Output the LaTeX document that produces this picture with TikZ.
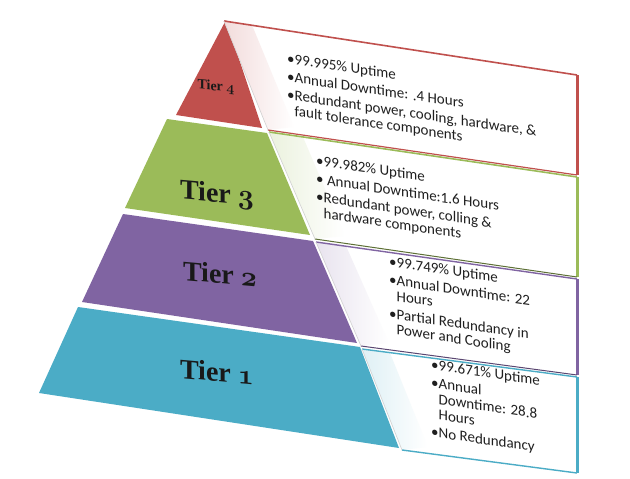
\documentclass[tikz,border=0pt]{standalone}
\usepackage{fix-cm}
\usepackage{fontspec}
\setmainfont{Carlito}
\newfontfamily\tierfont{Liberation Serif}
\definecolor{tred}{HTML}{C0504D}
\definecolor{tgreen}{HTML}{9BBB59}
\definecolor{tpurple}{HTML}{8064A2}
\definecolor{tcyan}{HTML}{4BACC6}
\tikzset{
  paneltext/.style={anchor=north west, inner sep=0pt, align=left, text=black!88,
    font=\fontsize{15}{15.5}\selectfont, yslant=-0.148},
  tierlabel/.style={text=black!90, inner sep=0pt, yslant=-0.09,
    font=\tierfont\bfseries\fontsize{28}{28}\selectfont},
  edgeline/.style={draw=black!18, line width=0.6pt}
}
\newcommand{\bul}{\textbullet}
\newcommand{\ind}{\hphantom{\textbullet}}
\newcommand{\osn}[1]{{\usefont{OML}{cmm}{b}{it}#1}}
\begin{document}
\begin{tikzpicture}[x=1pt,y=-1pt]
\useasboundingbox[fill=white] (0,0) rectangle (630,479);

% ---------- left (coloured) faces
\fill[tred] (226,20) -- (262,128) -- (176,115) -- cycle;
\fill[tgreen] (167,119) -- (267,133) -- (310,235) -- (125,208) -- cycle;
\fill[tpurple] (123,214) -- (313,241) -- (357,343) -- (82,302) -- cycle;
\fill[tcyan] (78,307) -- (360,347) -- (399,448) -- (39,393) -- cycle;

% ---------- right panels
% red
\fill[white] (224,21) -- (577,75) -- (577,175) -- (268,130) -- cycle;
\shade[left color=tred!20, right color=white] (224,21) -- (252,25) -- (294,127) -- (268,130) -- cycle;
\draw[tred, line width=1.6pt] (224,21) -- (577,75);
\draw[tred, line width=3pt] (577,75) -- (577,175);
\draw[tred, line width=1.2pt] (577,175) -- (268,130);
\draw[edgeline] (224,21) -- (268,130);
% green
\fill[white] (269,132) -- (577,177) -- (577,277) -- (315,239) -- cycle;
\shade[left color=tgreen!20, right color=white] (269,132) -- (303,137) -- (345,236) -- (315,239) -- cycle;
\draw[tgreen, line width=1.6pt] (269,132) -- (577,177);
\draw[tgreen, line width=3pt] (577,177) -- (577,277);
\draw[tgreen!60!black, line width=1pt] (577,277) -- (315,239);
\draw[edgeline] (269,132) -- (315,239);
% purple
\fill[white] (316,242) -- (577,279) -- (577,375) -- (361,346) -- cycle;
\shade[left color=tpurple!18, right color=white] (316,242) -- (346,246) -- (389,343) -- (361,346) -- cycle;
\draw[tpurple, line width=1.4pt] (316,242) -- (577,279);
\draw[tpurple, line width=3pt] (577,279) -- (577,375);
\draw[tpurple!70!black, line width=1pt] (577,375) -- (361,346);
\draw[edgeline] (316,242) -- (361,346);
% cyan
\fill[white] (362,349) -- (577,377) -- (577,473) -- (402,450) -- cycle;
\shade[left color=tcyan!18, right color=white] (362,349) -- (390,353) -- (428,447) -- (402,450) -- cycle;
\draw[tcyan, line width=1.4pt] (362,349) -- (577,377);
\draw[tcyan, line width=3pt] (577,377) -- (577,473);
\draw[tcyan, line width=1.4pt] (577,473) -- (402,450);
\draw[edgeline] (362,349) -- (402,450);

% ---------- tier labels
\node[tierlabel, font=\tierfont\bfseries\fontsize{14}{14}\selectfont] (t4) at (216,87) {Tier \osn{4}};
\node[tierlabel] (t3) at (217,195) {Tier \osn{3}};
\node[tierlabel] (t2) at (220,274) {Tier \osn{2}};
\node[tierlabel] (t1) at (217,372) {Tier \osn{1}};

% ---------- panel texts
\node[paneltext] (p4) at (287,53) {\bul99.995\% Uptime\\[2.5pt]
\bul Annual Downtime: .4 Hours\\[2.5pt]
\bul Redundant power, cooling, hardware, \&\\
\ind fault tolerance components};
\node[paneltext] (p3) at (316,155) {\bul99.982\% Uptime\\[2.5pt]
\bul\ Annual Downtime:1.6 Hours\\[2.5pt]
\bul Redundant power, colling \&\\
\ind hardware components};
\node[paneltext] (p2) at (389,256) {\bul99.749\% Uptime\\[2.5pt]
\bul Annual Downtime: 22\\
\ind Hours\\[2.5pt]
\bul Partial Redundancy in\\
\ind Power and Cooling};
\node[paneltext] (p1) at (431,359) {\bul99.671\% Uptime\\[2.5pt]
\bul Annual\\
\ind Downtime: 28.8\\
\ind Hours\\[2.5pt]
\bul No Redundancy};
\end{tikzpicture}
\end{document}
